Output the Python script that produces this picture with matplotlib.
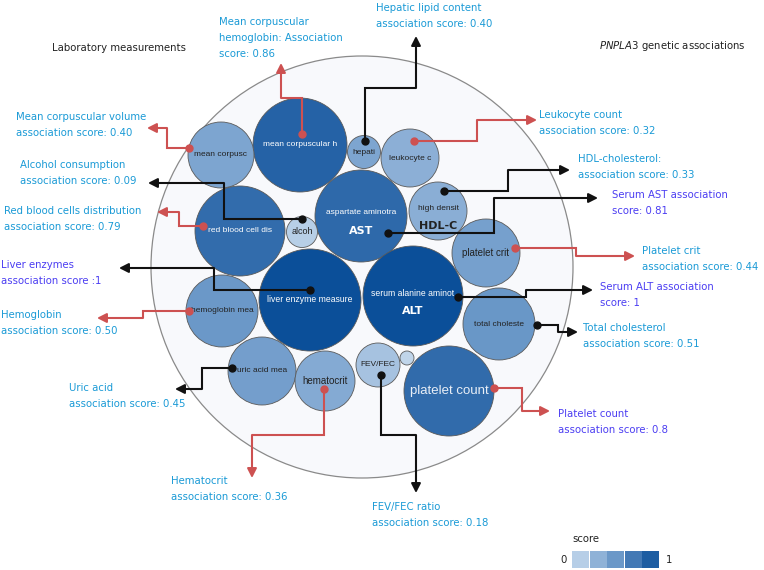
import matplotlib
matplotlib.use("Agg")
import matplotlib.pyplot as plt
from matplotlib.patches import Circle, Rectangle
from matplotlib.colors import LinearSegmentedColormap

# bubble data
bubble_names = ["mean corpuscular h", "mean corpusc", "hepati", "leukocyte c",
                "aspartate aminotra", "high densit", "red blood cell dis", "alcoh",
                "platelet crit", "liver enzyme measure", "serum alanine aminot",
                "hemoglobin mea", "total choleste", "uric acid mea", "hematocrit",
                "FEV/FEC", "", "platelet count"]
bubble_scores = [0.86, 0.40, 0.40, 0.32, 0.81, 0.33, 0.79, 0.09, 0.44, 1.0, 1.0,
                 0.50, 0.51, 0.45, 0.36, 0.18, 0.05, 0.80]
bubble_tags = ["", "", "", "", "AST", "HDL-C", "", "", "", "", "ALT",
               "", "", "", "", "", "", ""]

# packed layout (pixel space)
bubble_x = [300, 221, 364, 410, 361, 438, 240, 302, 486, 310, 413, 222, 499, 262, 325, 378, 407, 449]
bubble_y = [145, 155, 152, 158, 216, 211, 231, 232, 253, 300, 296, 311, 324, 371, 381, 365, 358, 391]
bubble_r = [47, 33, 16.5, 29, 46, 29, 45, 15.5, 34, 51, 50, 36, 36, 34, 30, 22, 7, 45]
label_size = [6, 6, 6, 6, 6, 6, 6, 6.5, 7, 6.2, 6.2, 6, 6, 6, 7, 6, 6, 9.5]

# annotations
ann_labels = [
    "Mean corpuscular\nhemoglobin: Association\nscore: 0.86",
    "Hepatic lipid content\nassociation score: 0.40",
    "Mean corpuscular volume\nassociation score: 0.40",
    "Alcohol consumption\nassociation score: 0.09",
    "Red blood cells distribution\nassociation score: 0.79",
    "Liver enzymes\nassociation score :1",
    "Hemoglobin\nassociation score: 0.50",
    "Uric acid\nassociation score: 0.45",
    "Hematocrit\nassociation score: 0.36",
    "FEV/FEC ratio\nassociation score: 0.18",
    "Platelet count\nassociation score: 0.8",
    "Total cholesterol\nassociation score: 0.51",
    "Serum ALT association\nscore: 1",
    "Platelet crit\nassociation score: 0.44",
    "Serum AST association\nscore: 0.81",
    "HDL-cholesterol:\nassociation score: 0.33",
    "Leukocyte count\nassociation score: 0.32",
]
ann_group = ["lab", "gen", "lab", "gen", "lab", "gen", "lab", "gen", "lab",
             "gen", "lab", "gen", "gen", "lab", "gen", "gen", "lab"]
ann_purple = [False, False, False, False, False, True, False, False, False,
              False, True, False, True, False, True, False, False]
ann_paths = [
    [(302, 134), (302, 98), (281, 98), (281, 63)],
    [(365, 141), (365, 88), (416, 88), (416, 36)],
    [(189, 148), (167, 148), (167, 128), (147, 128)],
    [(302, 219), (224, 219), (224, 183), (148, 183)],
    [(203, 226), (179, 226), (179, 212), (157, 212)],
    [(310, 290), (214, 290), (214, 268), (119, 268)],
    [(189, 311), (143, 311), (143, 318), (97, 318)],
    [(232, 368), (202, 368), (202, 389), (175, 389)],
    [(324, 389), (324, 435), (252, 435), (252, 478)],
    [(381, 375), (381, 435), (416, 435), (416, 493)],
    [(494, 388), (522, 388), (522, 411), (550, 411)],
    [(537, 325), (558, 325), (558, 332), (578, 332)],
    [(458, 297), (526, 297), (526, 290), (593, 290)],
    [(515, 248), (576, 248), (576, 256), (635, 256)],
    [(388, 233), (494, 233), (494, 198), (598, 198)],
    [(444, 191), (508, 191), (508, 170), (570, 170)],
    [(414, 141), (477, 141), (477, 120), (537, 120)],
]
ann_text_xy = [(219, 17), (376, 3), (16, 112), (20, 160), (4, 206), (1, 260), (1, 310),
               (69, 383), (171, 476), (372, 502), (558, 409), (583, 323), (600, 282),
               (642, 246), (612, 190), (578, 154), (539, 110)]

legend_values = [0.1, 0.3, 0.5, 0.7, 0.9]

cmap = LinearSegmentedColormap.from_list(
    "score", ["#c9dcee", "#98b8db", "#6b98c8", "#3a72b0", "#0b4f99"])

fig = plt.figure(figsize=(7.64, 5.70), dpi=100)
ax = fig.add_axes([0, 0, 1, 1])
ax.set_xlim(0, 764)
ax.set_ylim(570, 0)
ax.axis("off")

ax.add_patch(Circle((362, 267), 211, facecolor="#f8f9fc", edgecolor="#8a8a8a", lw=0.9, zorder=1))

for name, s, tag, x, y, r, fs in zip(bubble_names, bubble_scores, bubble_tags,
                                      bubble_x, bubble_y, bubble_r, label_size):
    ax.add_patch(Circle((x, y), r, facecolor=cmap(s), edgecolor="#5a5a5a", lw=0.6, zorder=2))
    tc = "white" if s > 0.6 else "#222222"
    if fs > 8:
        tc = "#e8eef6"
    dy = -3 if tag else 0
    ax.text(x, y + dy, name, ha="center", va="center", fontsize=fs, color=tc,
            family="Liberation Sans", zorder=4)
    if tag:
        ax.text(x, y + 15, tag, ha="center", va="center", fontsize=8, color=tc,
                fontweight="bold", zorder=4)

for lab, grp, purple, path, (tx, ty) in zip(ann_labels, ann_group, ann_purple,
                                            ann_paths, ann_text_xy):
    lc = "#cd5151" if grp == "lab" else "#111111"
    xs = [p[0] for p in path]
    ys = [p[1] for p in path]
    ax.plot(xs[:-1], ys[:-1], color=lc, lw=1.5, zorder=5, solid_capstyle="butt",
            solid_joinstyle="miter")
    ax.annotate("", xy=path[-1], xytext=path[-2],
                arrowprops=dict(arrowstyle="-|>,head_length=0.55,head_width=0.28",
                                color=lc, lw=1.5, shrinkA=0, shrinkB=0), zorder=5)
    ax.plot(xs[0], ys[0], "o", color=lc, ms=5, zorder=6)
    tcol = "#4b3df2" if purple else "#1a9ad6"
    ax.text(tx, ty, lab, ha="left", va="top", fontsize=7.3, color=tcol,
            linespacing=1.75, zorder=6)

ax.text(52, 48, "Laboratory measurements", ha="left", va="center", fontsize=7.3, color="#222222")
ax.text(599, 46, "$\\it{PNPLA3}$ genetic associations", ha="left", va="center",
        fontsize=7.3, color="#222222")

# legend
ax.text(572, 539, "score", ha="left", va="center", fontsize=7.3, color="#222222")
for i, v in enumerate(legend_values):
    ax.add_patch(Rectangle((572 + i * 17.6, 551), 17, 17, facecolor=cmap(v), edgecolor="none"))
ax.text(564, 560, "0", ha="center", va="center", fontsize=7.3, color="#222222")
ax.text(669, 560, "1", ha="center", va="center", fontsize=7.3, color="#222222")

fig.savefig("out.png", dpi=100)
